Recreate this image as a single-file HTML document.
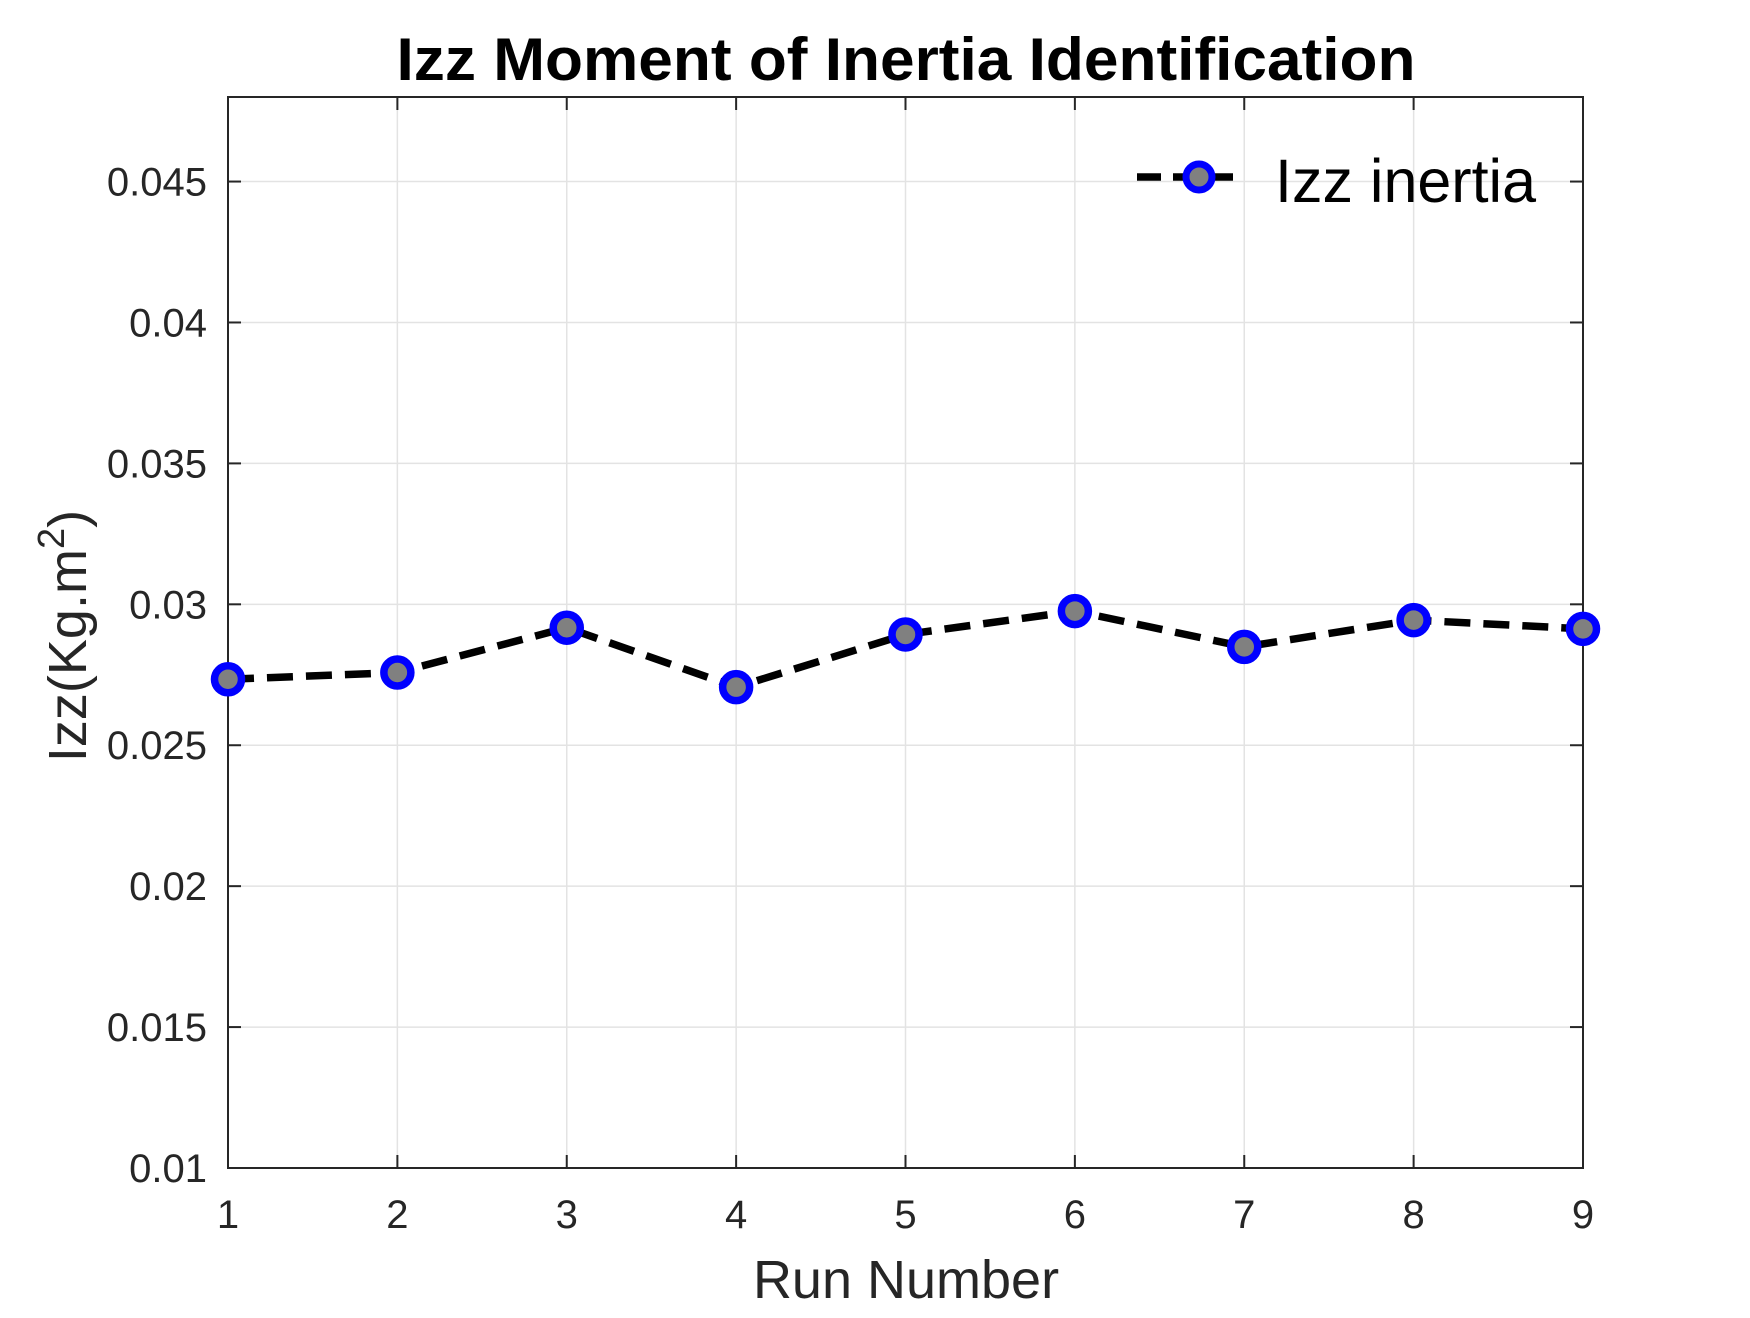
<!DOCTYPE html>
<html><head><meta charset="utf-8"><style>
html,body{margin:0;padding:0;background:#fff;}
svg text{font-family:"Liberation Sans",Arial,sans-serif;}
</style></head><body>
<svg id="chart" width="1750" height="1313" xmlns="http://www.w3.org/2000/svg">
<rect width="1750" height="1313" fill="#fff"/>
<g id="grid"></g>
<g id="axes"></g>
<g id="series"></g>
<text x="906" y="80" text-anchor="middle" font-size="60" font-weight="bold" fill="#000" textLength="1019" lengthAdjust="spacingAndGlyphs">Izz Moment of Inertia Identification</text>
<text x="906" y="1298" text-anchor="middle" font-size="54" fill="#262626">Run Number</text>
<text transform="translate(86,636) rotate(-90)" text-anchor="middle" font-size="54" fill="#262626">Izz(Kg.m<tspan dy="-22" font-size="38">2</tspan><tspan dy="22">)</tspan></text>
<g>
<line x1="1137" y1="177" x2="1233" y2="177" stroke="#000" stroke-width="7.5" stroke-dasharray="24,12"/>
<circle cx="1199" cy="177" r="13" fill="#808080" stroke="#0000ff" stroke-width="7"/>
<text x="1275" y="202" font-size="61" fill="#000">Izz inertia</text>
</g>
</svg>
<script>
const runs = [1,2,3,4,5,6,7,8,9];
const izz = [0.02734,0.02758,0.02917,0.02706,0.02893,0.02976,0.02849,0.02944,0.02913];
const yTicks = [0.01,0.015,0.02,0.025,0.03,0.035,0.04,0.045];
const yTickLabels = ["0.01","0.015","0.02","0.025","0.03","0.035","0.04","0.045"];
const xTicks = [1,2,3,4,5,6,7,8,9];

const L=228,R=1583,T=97,B=1168;
const xMin=1,xMax=9,yMin=0.01,yMax=0.048;
function sx(v){return L+(v-xMin)/(xMax-xMin)*(R-L);}
function sy(v){return B-(v-yMin)/(yMax-yMin)*(B-T);}
const NS="http://www.w3.org/2000/svg";
function mk(tag,attrs,parent){const e=document.createElementNS(NS,tag);for(const k in attrs)e.setAttribute(k,attrs[k]);parent.appendChild(e);return e;}
const grid=document.getElementById('grid'),axes=document.getElementById('axes'),series=document.getElementById('series');

xTicks.forEach(function(v){
  const g=mk('line',{x1:sx(v),x2:sx(v),y1:T,y2:B,stroke:'#e3e3e3','stroke-width':1.5},grid);
  
  
  const t1=mk('line',{x1:sx(v),x2:sx(v),y1:B,y2:B-13,stroke:'#262626','stroke-width':2},axes);
  
  
  const t2=mk('line',{x1:sx(v),x2:sx(v),y1:T,y2:T+13,stroke:'#262626','stroke-width':2},axes);
  
  
  const lb=mk('text',{x:sx(v),y:1228,'text-anchor':'middle','font-size':40,fill:'#262626'},axes);
  lb.textContent=String(v);
  
  
});
yTicks.forEach(function(v,i){
  const g=mk('line',{x1:L,x2:R,y1:sy(v),y2:sy(v),stroke:'#e3e3e3','stroke-width':1.5},grid);
  
  
  const t1=mk('line',{x1:L,x2:L+13,y1:sy(v),y2:sy(v),stroke:'#262626','stroke-width':2},axes);
  
  
  const t2=mk('line',{x1:R,x2:R-13,y1:sy(v),y2:sy(v),stroke:'#262626','stroke-width':2},axes);
  
  
  const lb=mk('text',{x:207,y:sy(v)+14,'text-anchor':'end','font-size':40,fill:'#262626'},axes);
  lb.textContent=yTickLabels[i];
  
  
});
const box=mk('rect',{x:L,y:T,width:R-L,height:B-T,fill:'none',stroke:'#262626','stroke-width':2},axes);



const pts=runs.map(function(r,i){return sx(r)+','+sy(izz[i]);}).join(' ');
const line=mk('polyline',{points:pts,fill:'none',stroke:'#000','stroke-width':7.5,'stroke-dasharray':'26,13'},series);


runs.forEach(function(r,i){
  const c=mk('circle',{cx:sx(r),cy:sy(izz[i]),r:13.5,fill:'#808080',stroke:'#0000ff','stroke-width':7.5},series);
  
  
});
</script>
</body></html>
